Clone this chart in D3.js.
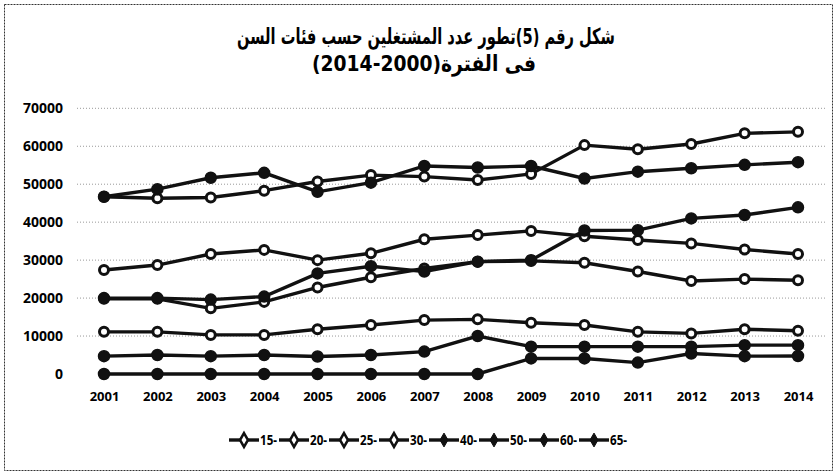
<!doctype html>
<html>
  <head>
    <meta charset="utf-8">
    <script src="https://cdnjs.cloudflare.com/ajax/libs/d3/7.8.5/d3.min.js"></script>
    <style>
      body { margin: 0; background: #fff; }
      svg { display: block; }
    </style>
  </head>
  <body>
    <svg></svg>
    <script>
      var width = 837,
          height = 474;

      var years = ["2001","2002","2003","2004","2005","2006","2007","2008","2009","2010","2011","2012","2013","2014"];
      var yTicks = [0, 10000, 20000, 30000, 40000, 50000, 60000, 70000];
      var seriesNames = ["15-","20-","25-","30-","40-","50-","60-","65-"];

      var s15 = [11100, 11100, 10300, 10300, 11800, 12900, 14200, 14400, 13500, 12900, 11100, 10700, 11800, 11400];
      var s20 = [19800, 19800, 17300, 19000, 22800, 25500, 27800, 29600, 29800, 29300, 27000, 24500, 25000, 24700];
      var s25 = [27400, 28700, 31600, 32700, 30000, 31800, 35500, 36600, 37700, 36300, 35300, 34400, 32800, 31600];
      var s30 = [46700, 46300, 46500, 48300, 50700, 52400, 52000, 51100, 52700, 60300, 59200, 60600, 63400, 63800];
      var s40 = [46700, 48700, 51700, 53000, 48000, 50400, 54800, 54400, 54800, 51500, 53300, 54200, 55100, 55800];
      var s50 = [20000, 20000, 19600, 20400, 26500, 28400, 27000, 29600, 30000, 37800, 37900, 41000, 41900, 43900];
      var s60 = [4700, 5000, 4700, 5000, 4600, 5000, 5900, 10000, 7200, 7200, 7200, 7200, 7600, 7600];
      var s65 = [0, 0, 0, 0, 0, 0, 0, 0, 4100, 4100, 3000, 5400, 4700, 4750];

      var allSeries = [s15, s20, s25, s30, s40, s50, s60, s65];
      var openMarker = [true, true, true, true, false, false, false, false];

      var svg = d3.select("svg").attr("width", width).attr("height", height);

      // cadre
      svg.append("rect")
        .attr("x", 4.5).attr("y", 4.5)
        .attr("width", 828).attr("height", 466)
        .attr("fill", "none")
        .attr("stroke", "#333")
        .attr("stroke-width", 1)
        .attr("stroke-dasharray", "2,1");

      // titre
      var title = svg.append("g")
        .style("font-family", "DejaVu Sans")
        .style("font-weight", "bold")
        .style("font-size", "22px")
        .attr("fill", "#000");
      title.append("text")
        .attr("x", 426).attr("y", 44)
        .attr("text-anchor", "middle").attr("direction", "rtl")
        .attr("textLength", 378).attr("lengthAdjust", "spacingAndGlyphs")
        .text("شكل رقم (5)تطور عدد المشتغلين حسب فئات السن");
      title.append("text")
        .attr("x", 424).attr("y", 71)
        .attr("text-anchor", "middle").attr("direction", "rtl")
        .attr("textLength", 224).attr("lengthAdjust", "spacingAndGlyphs")
        .text("فى الفترة(2000-2014)");

      var x = d3.scalePoint().domain(years).range([104, 798]);
      var y = d3.scaleLinear().domain([0, 70000]).range([374, 108.3]);

      // grille
      svg.append("g").selectAll("line").data(yTicks.slice(1)).enter()
        .append("line")
          .attr("x1", 77).attr("x2", 826)
          .attr("y1", d => y(d)).attr("y2", d => y(d))
          .attr("stroke", "#999")
          .attr("stroke-width", 1)
          .attr("stroke-dasharray", "1,2");

      // axes
      var yAxis = svg.append("g")
        .attr("transform", "translate(63,0)")
        .call(d3.axisLeft(y).tickValues(yTicks).tickFormat(d3.format("d")).tickSize(0).tickPadding(0));
      yAxis.select(".domain").remove();
      yAxis.selectAll("text")
        .style("font-family", "Open Sans")
        .style("font-weight", "bold")
        .style("font-size", "14px")
        .attr("fill", "#000");

      var xAxis = svg.append("g")
        .attr("transform", "translate(0,386)")
        .call(d3.axisBottom(x).tickSize(0).tickPadding(6));
      xAxis.select(".domain").remove();
      xAxis.selectAll("text")
        .style("font-family", "Open Sans")
        .style("font-weight", "bold")
        .style("font-size", "13px")
        .attr("fill", "#000");

      // courbes
      var line = d3.line().x((d, i) => x(years[i])).y(d => y(d));

      var groups = svg.selectAll("g.serie").data(allSeries).enter()
        .append("g").attr("class", "serie");

      groups.append("path")
        .attr("d", d => line(d))
        .attr("fill", "none")
        .attr("stroke", "#111")
        .attr("stroke-width", 3.4);

      groups.each(function(d, k) {
        d3.select(this).selectAll("circle").data(d).enter()
          .append("circle")
            .attr("cx", (v, i) => x(years[i]))
            .attr("cy", v => y(v))
            .attr("r", openMarker[k] ? 4.5 : 5.5)
            .attr("fill", openMarker[k] ? "#fff" : "#111")
            .attr("stroke", "#111")
            .attr("stroke-width", openMarker[k] ? 3 : 1.5);
      });

      // légende
      var leg = svg.append("g").selectAll("g").data(seriesNames).enter()
        .append("g")
          .attr("transform", (d, i) => "translate(" + (229 + i * 50) + ",440)");
      leg.append("line")
        .attr("x1", 0).attr("x2", 30)
        .attr("stroke", "#111").attr("stroke-width", 3.4);
      leg.append("path")
        .attr("d", d3.symbol().type(d3.symbolDiamond).size(55))
        .attr("transform", "translate(15,0)")
        .attr("fill", (d, i) => openMarker[i] ? "#fff" : "#111")
        .attr("stroke", "#111")
        .attr("stroke-width", (d, i) => openMarker[i] ? 2.5 : 1);
      leg.append("text")
        .attr("x", 31).attr("y", 5)
        .attr("textLength", 17).attr("lengthAdjust", "spacingAndGlyphs")
        .style("font-family", "Open Sans")
        .style("font-weight", "bold")
        .style("font-size", "14px")
        .attr("fill", "#000")
        .text(d => d);
    </script>
  </body>
</html>
